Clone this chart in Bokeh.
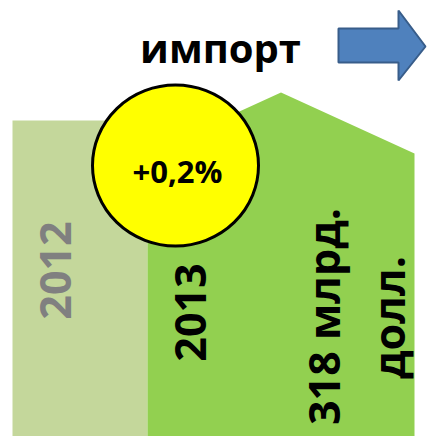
import math
from bokeh.plotting import figure
from bokeh.models import Range1d
from bokeh.core.properties import value
from bokeh.embed import file_html
from bokeh.resources import INLINE

# ---- data ----
title = "импорт"
years = ["2012", "2013"]
# visual bar heights (stylized infographic, in picture units above the bottom)
bar_heights = [316, 283]       # 2012 flat top, 2013 shoulder height
peak_height = 344              # 2013 roof peak
change_label = "+0,2%"
value_label = ["318 млрд.", "долл."]

H = 436  # picture height; convert top-based picture y to bottom-based y
def Y(v):
    return H - v

FONT = value("Open Sans")

p = figure(width=427, height=436, x_range=Range1d(0, 427), y_range=Range1d(0, 436),
           output_backend="svg", toolbar_location=None, min_border=0)
p.axis.visible = False
p.grid.visible = False
p.outline_line_color = None
p.background_fill_color = "white"
p.border_fill_color = "white"

# 2012 bar
x0, x1, x2 = 12, 147, 414
bottom = 0
p.quad(left=[x0], right=[x1], bottom=[bottom], top=[bar_heights[0]],
       fill_color="#C4D79B", line_color=None)

# 2013 bar with a roof
mid = (x1 + x2) / 2
p.patch(x=[x1, x1, mid, x2, x2],
        y=[bottom, bar_heights[1], peak_height, bar_heights[1], bottom],
        fill_color="#92D050", line_color=None)

# change circle
p.ellipse(x=[175], y=[Y(165)], width=166, height=161,
          fill_color="#FFFF00", line_color="black", line_width=3)
p.text(x=[177], y=[Y(170)], text=[change_label], text_font=FONT,
       text_font_style="bold", text_font_size="31px", text_color="black",
       text_align="center", text_baseline="middle")

# title
p.text(x=[220], y=[Y(47)], text=[title], text_font=FONT,
       text_font_style="bold", text_font_size="40px", text_color="black",
       text_align="center", text_baseline="middle")

# arrow
ax = [338, 398, 398, 425, 398, 398, 338]
ay = [28, 28, 10, 46, 80, 62, 62]
p.patch(x=ax, y=[Y(v) for v in ay], fill_color="#4F81BD",
        line_color="#385D8A", line_width=2)

# year labels (rotated)
p.text(x=[55], y=[Y(270)], text=[years[0]], text_font=FONT,
       text_font_style="bold", text_font_size="43px", text_color="#808080",
       text_align="center", text_baseline="middle", angle=math.pi / 2)
p.text(x=[190], y=[Y(312)], text=[years[1]], text_font=FONT,
       text_font_style="bold", text_font_size="43px", text_color="black",
       text_align="center", text_baseline="middle", angle=math.pi / 2)
p.text(x=[323, 388], y=[Y(316), Y(317)], text=value_label, text_font=FONT,
       text_font_style="bold", text_font_size="43px", text_color="black",
       text_align="center", text_baseline="middle", angle=math.pi / 2)

open("out.html", "w").write(file_html(p, INLINE))
